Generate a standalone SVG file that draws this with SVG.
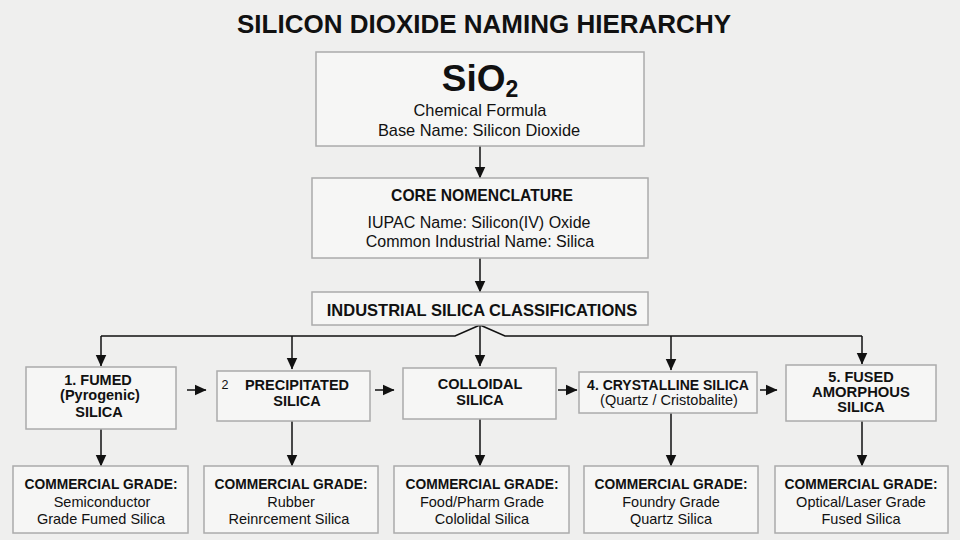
<svg xmlns="http://www.w3.org/2000/svg" width="960" height="540" viewBox="0 0 960 540">
<defs>
<marker id="ah" markerUnits="userSpaceOnUse" markerWidth="12" markerHeight="12" viewBox="0 0 11 10" refX="10.5" refY="5" orient="auto">
<path d="M0,0 L11,5 L0,10 Z" fill="#111"/>
</marker>
<style>
.bx{fill:#f6f6f5;stroke:#ababab;stroke-width:1.5}
.t{font-family:"Liberation Sans",Arial,sans-serif;fill:#111;text-anchor:middle}
.b{font-weight:bold}
.ln{stroke:#111;stroke-width:1.5;fill:none}
.ar{stroke:#111;stroke-width:1.5;fill:none;marker-end:url(#ah)}
</style>
</defs>
<rect width="960" height="540" fill="#efefee"/>
<text class="t b" x="484" y="33" font-size="26">SILICON DIOXIDE NAMING HIERARCHY</text>

<g id="connectors">
<line class="ar" x1="480" y1="146" x2="480" y2="178"/>
<line class="ar" x1="480" y1="258" x2="480" y2="292"/>
<line class="ar" x1="480" y1="325" x2="480" y2="366"/>
<polyline class="ln" points="480,325 455,336 101,336"/>
<polyline class="ln" points="480,325 505,336 862,336"/>
<line class="ar" x1="101" y1="336" x2="101" y2="366"/>
<line class="ar" x1="292" y1="336" x2="292" y2="369"/>
<line class="ar" x1="671" y1="336" x2="671" y2="370"/>
<line class="ar" x1="862" y1="336" x2="862" y2="364"/>
<line class="ar" x1="187" y1="390" x2="206" y2="390"/>
<line class="ar" x1="375" y1="390" x2="394" y2="390"/>
<line class="ar" x1="558" y1="390" x2="577" y2="390"/>
<line class="ar" x1="760" y1="390" x2="777" y2="390"/>
<line class="ar" x1="101" y1="429" x2="101" y2="466"/>
<line class="ar" x1="292" y1="421" x2="292" y2="466"/>
<line class="ar" x1="480" y1="419" x2="480" y2="466"/>
<line class="ar" x1="671" y1="413" x2="671" y2="466"/>
<line class="ar" x1="862" y1="421" x2="862" y2="466"/>
</g>

<g id="formula">
<rect class="bx" x="316" y="52" width="328" height="94"/>
<text class="t b" x="480" y="91" font-size="37">SiO<tspan font-size="23" dy="6">2</tspan></text>
<text class="t" x="480" y="116" font-size="16.4">Chemical Formula</text>
<text class="t" x="479" y="136" font-size="16.4">Base Name: Silicon Dioxide</text>
</g>

<g id="core">
<rect class="bx" x="312" y="178" width="336" height="80"/>
<text class="t b" x="482" y="201" font-size="15.7">CORE NOMENCLATURE</text>
<text class="t" x="479" y="228" font-size="16">IUPAC Name: Silicon(IV) Oxide</text>
<text class="t" x="480" y="247" font-size="16">Common Industrial Name: Silica</text>
</g>

<g id="classifications">
<rect class="bx" x="312" y="292" width="336" height="33"/>
<text class="t b" x="482" y="316" font-size="16.5">INDUSTRIAL SILICA CLASSIFICATIONS</text>
</g>

<g id="fumed">
<rect class="bx" x="26" y="367" width="150" height="62"/>
<text class="t b" x="98" y="385" font-size="14.5">1. FUMED</text>
<text class="t b" x="100" y="400" font-size="14.5">(Pyrogenic)</text>
<text class="t b" x="99" y="417" font-size="14.5">SILICA</text>
</g>

<g id="precipitated">
<rect class="bx" x="217" y="371" width="153" height="50"/>
<text class="t" x="225" y="389" font-size="12.5">2</text>
<text class="t b" x="297" y="390" font-size="14.5">PRECIPITATED</text>
<text class="t b" x="297" y="406" font-size="14.5">SILICA</text>
</g>

<g id="colloidal">
<rect class="bx" x="403" y="368" width="153" height="51"/>
<text class="t b" x="480" y="389" font-size="14.5">COLLOIDAL</text>
<text class="t b" x="480" y="405" font-size="14.5">SILICA</text>
</g>

<g id="crystalline">
<rect class="bx" x="579" y="372" width="178" height="41"/>
<text class="t b" x="668" y="390" font-size="14">4. CRYSTALLINE SILICA</text>
<text class="t" x="669" y="405" font-size="14.5">(Quartz / Cristobalite)</text>
</g>

<g id="fused">
<rect class="bx" x="786" y="365" width="150" height="56"/>
<text class="t b" x="861" y="382" font-size="14.5">5. FUSED</text>
<text class="t b" x="861" y="397" font-size="14.8">AMORPHOUS</text>
<text class="t b" x="861" y="412" font-size="14.5">SILICA</text>
</g>

<g id="grade-fumed">
<rect class="bx" x="13" y="466" width="175" height="67"/>
<text class="t b" x="101" y="489" font-size="13.8">COMMERCIAL GRADE:</text>
<text class="t" x="102" y="507" font-size="14.5">Semiconductor</text>
<text class="t" x="101" y="524" font-size="14.5">Grade Fumed Silica</text>
</g>

<g id="grade-precipitated">
<rect class="bx" x="204" y="466" width="174" height="67"/>
<text class="t b" x="291" y="489" font-size="13.8">COMMERCIAL GRADE:</text>
<text class="t" x="291" y="507" font-size="14.5">Rubber</text>
<text class="t" x="289" y="524" font-size="14.5">Reinrcement Silica</text>
</g>

<g id="grade-colloidal">
<rect class="bx" x="394" y="466" width="175" height="67"/>
<text class="t b" x="482" y="489" font-size="13.8">COMMERCIAL GRADE:</text>
<text class="t" x="482" y="507" font-size="14.5">Food/Pharm Grade</text>
<text class="t" x="482" y="524" font-size="14.5">Cololidal Silica</text>
</g>

<g id="grade-crystalline">
<rect class="bx" x="584" y="466" width="174" height="67"/>
<text class="t b" x="671" y="489" font-size="13.8">COMMERCIAL GRADE:</text>
<text class="t" x="671" y="507" font-size="14.5">Foundry Grade</text>
<text class="t" x="671" y="524" font-size="14.5">Quartz Silica</text>
</g>

<g id="grade-fused">
<rect class="bx" x="775" y="466" width="173" height="67"/>
<text class="t b" x="861" y="489" font-size="13.8">COMMERCIAL GRADE:</text>
<text class="t" x="861" y="507" font-size="14.5">Optical/Laser Grade</text>
<text class="t" x="861" y="524" font-size="14.5">Fused Silica</text>
</g>
</svg>
